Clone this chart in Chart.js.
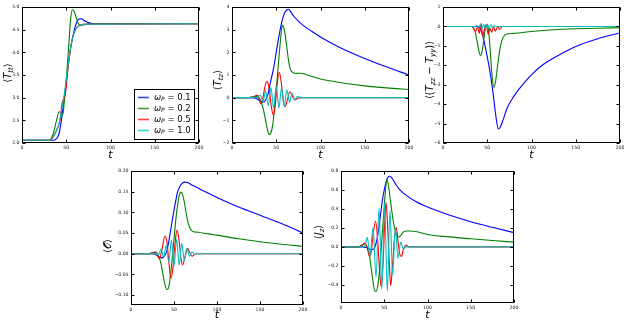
<!DOCTYPE html>
<html><head><meta charset="utf-8">
<script src="https://cdn.jsdelivr.net/npm/chart.js@4"></script>
<style>
html,body{margin:0;padding:0;background:#fff}
body{width:627px;height:320px;position:relative;overflow:hidden}
canvas{position:absolute}
</style>
</head><body>
<canvas id="c1" width="212" height="160" style="left:0px;top:0px"></canvas>
<canvas id="c2" width="210" height="160" style="left:210px;top:0px"></canvas>
<canvas id="c3" width="207" height="160" style="left:420px;top:0px"></canvas>
<canvas id="c4" width="210" height="160" style="left:100px;top:160px"></canvas>
<canvas id="c5" width="215" height="160" style="left:310px;top:160px"></canvas>
<script>
// ---------- DATA (t, value) ----------
const omegaLabels = ['0.1', '0.2', '0.5', '1.0'];
const seriesColors = ['rgb(0,0,255)', 'rgb(0,128,0)', 'rgb(255,0,0)', 'rgb(0,191,191)'];
const xTicks = [0, 50, 100, 150, 200];

// <T_tt>
const ttW01 = [[0,2.06],[36,2.06],[40,2.12],[42,2.22],[44.5,2.5],[47.4,2.95],[50,3.35],[52,3.68],[55,4.1],[58.6,4.45],[61,4.62],[64,4.73],[67,4.74],[71,4.69],[76,4.65],[82,4.63],[200,4.63]];
const ttW02 = [[0,2.06],[30,2.06],[33,2.1],[36,2.25],[39,2.5],[42,2.69],[44,2.66],[46,2.62],[48,2.95],[50.4,3.5],[53,4.2],[55,4.75],[57,4.94],[59,4.9],[61,4.78],[63,4.66],[66,4.59],[70,4.61],[75,4.63],[200,4.63]];
const ttW05 = [[0,2.06],[31,2.06],[34,2.1],[37,2.2],[40,2.32],[43,2.5],[45.5,2.9],[47.5,2.98],[49.5,3.15],[52,3.65],[55,4.1],[58,4.38],[61,4.52],[65,4.59],[70,4.62],[200,4.63]];
const ttW10 = [[0,2.06],[31,2.06],[33,2.07],[36,2.15],[39,2.28],[42,2.45],[45,2.75],[48,3.1],[51,3.55],[54,4.0],[57,4.3],[60,4.48],[63,4.56],[66,4.6],[70,4.62],[200,4.63]];
const ttTicks = [2.0, 2.5, 3.0, 3.5, 4.0, 4.5, 5.0];

// <T_tz>
const tzW01 = [[0,0],[22,0],[28,-0.05],[32,-0.15],[35,-0.2],[38,-0.1],[41,0.2],[43,0.6],[47,1.3],[50,2.0],[53,2.7],[56,3.3],[59,3.7],[62,3.88],[64,3.9],[67,3.75],[70,3.58],[75,3.38],[80,3.2],[90,2.93],[100,2.68],[120,2.25],[150,1.73],[175,1.35],[200,1.0]];
const tzW02 = [[0,0],[18,0],[24,0.05],[28,0.05],[32,-0.1],[35,-0.45],[38,-1.0],[40,-1.4],[42,-1.63],[44,-1.55],[46,-1.2],[48,-0.5],[50,0.4],[52,1.3],[54,2.2],[56,3.0],[57,3.2],[58.5,3.1],[60,2.8],[62,2.2],[64,1.6],[66,1.25],[69,1.1],[73,1.07],[78,1.08],[85,1.0],[100,0.82],[125,0.65],[150,0.52],[175,0.43],[200,0.36]];
const tzW05 = [[0,0],[22,0],[25,0.05],[28,0.1],[30,0.05],[32.5,-0.27],[35,0.0],[37,0.45],[39.5,0.72],[42,0.4],[44.5,-0.4],[46.7,-0.77],[49,-0.3],[51,0.6],[53.5,1.12],[56,0.55],[58,-0.15],[60,-0.4],[62.5,-0.1],[65.5,0.26],[68,0.08],[71,-0.1],[74,-0.03],[78,0],[200,0]];
const tzW10 = [[0,0],[26,0],[29,0.03],[32,0.12],[35,-0.17],[38,0.3],[41,-0.35],[44,0.45],[47,-0.45],[50,0.5],[53,-0.45],[56,0.45],[59,-0.38],[62,0.35],[65,-0.2],[68,0.2],[71,-0.08],[74,0.06],[77,0],[200,0]];
const tzTicks = [-2, -1, 0, 1, 2, 3, 4];

// <(T_zz - T_yy)>
const dW01 = [[0,0],[39,0],[42,-0.1],[45,-0.5],[48,-1.1],[51,-1.8],[54,-2.6],[57,-3.6],[60,-4.7],[62.5,-5.28],[65,-5.15],[68,-4.8],[72,-4.25],[80,-3.6],[90,-3.0],[100,-2.49],[112,-2.0],[125,-1.63],[150,-1.03],[175,-0.63],[200,-0.34]];
const dW02 = [[0,0],[32,0],[35,-0.1],[37,-0.4],[39,-0.9],[41,-1.35],[42.5,-1.5],[44,-1.35],[46,-0.7],[48,-0.1],[50,0.1],[51.5,-0.2],[53,-1.0],[55,-2.3],[57.5,-3.14],[59.5,-2.8],[62,-1.9],[65,-1.0],[68,-0.55],[72,-0.39],[80,-0.36],[100,-0.26],[125,-0.17],[150,-0.12],[175,-0.09],[200,-0.07]];
const dW05 = [[0,0],[33,0],[35,-0.15],[37,-0.25],[39,0],[41,-0.35],[43,0.15],[45,-0.5],[47,-0.1],[49,0.1],[51,-0.4],[53,-0.1],[55,-0.3],[57,0],[59,-0.25],[62,0],[64,-0.15],[67,0],[200,0]];
const dW10 = [[0,0],[36,0],[38,0.05],[40,-0.05],[42,0.08],[44,-0.1],[46,0.1],[48,-0.12],[50,0.12],[52,-0.1],[54,0.08],[56,-0.06],[58,0.03],[60,0],[200,0]];
const dTicks = [-6, -5, -4, -3, -2, -1, 0, 1];

// <O>
const oW01 = [[0,0],[25,0],[30,-0.004],[35,-0.01],[38,-0.008],[40,-0.002],[42,0.01],[44,0.03],[46,0.055],[48,0.081],[50,0.105],[52,0.128],[54,0.148],[57,0.163],[60,0.171],[62.5,0.173],[66,0.172],[70,0.167],[75,0.162],[87,0.149],[100,0.136],[125,0.113],[150,0.093],[175,0.073],[200,0.05]];
const oW02 = [[0,0],[20,0],[25,0.003],[29,0.004],[32,-0.005],[35,-0.025],[38,-0.06],[40.5,-0.082],[42,-0.087],[44,-0.08],[46,-0.05],[48,-0.01],[50,0.035],[52,0.08],[54,0.115],[56,0.14],[58.3,0.149],[60,0.143],[62,0.125],[64,0.1],[66,0.078],[69,0.06],[72,0.054],[78,0.052],[90,0.048],[100,0.045],[125,0.036],[150,0.029],[175,0.023],[200,0.018]];
const oW05 = [[0,0],[24,0],[28,0.004],[30,0],[33,-0.012],[36,0.01],[39.5,0.043],[42,0.025],[44,-0.02],[46.5,-0.06],[49,-0.03],[51,0.02],[53.5,0.057],[56,0.03],[58,-0.01],[60,-0.027],[62.5,-0.01],[65.5,0.013],[68,0.004],[71,-0.006],[74,-0.002],[77,0],[200,0]];
const oW10 = [[0,0],[28,0],[30,0.002],[32,-0.003],[35,0.012],[38,-0.008],[41,0.02],[44,-0.02],[47,0.033],[50,-0.03],[53,0.035],[56,-0.028],[59,0.025],[62,-0.016],[65,0.012],[68,-0.006],[71,0.004],[74,-0.002],[77,0],[200,0]];
const oTicks = [-0.10, -0.05, 0.00, 0.05, 0.10, 0.15, 0.20];

// <J_z>
const jW01 = [[0,0],[25,0],[30,-0.01],[35,-0.03],[38,-0.02],[40,0.02],[42,0.1],[44,0.22],[46,0.36],[48,0.5],[50,0.6],[52,0.68],[54,0.73],[56,0.745],[58,0.735],[62,0.68],[66,0.625],[70,0.585],[75,0.545],[87,0.475],[100,0.42],[125,0.335],[150,0.265],[175,0.206],[200,0.15]];
const jW02 = [[0,0],[20,0],[24,0.02],[27,0.03],[30,0.0],[33,-0.1],[36,-0.3],[38.5,-0.45],[40.5,-0.47],[43,-0.38],[45,-0.2],[47,0.05],[49,0.3],[51,0.55],[53,0.71],[55,0.64],[57,0.5],[59,0.36],[61,0.24],[63,0.16],[65,0.12],[67,0.105],[69,0.12],[72,0.155],[76,0.168],[80,0.168],[90,0.155],[100,0.13],[125,0.105],[150,0.085],[175,0.067],[200,0.05]];
const jW05 = [[0,0],[22,0],[25,0.02],[27.5,0.04],[30,0.0],[33,-0.1],[35,-0.05],[37,0.12],[40,0.27],[42.5,0.05],[45,-0.3],[46.5,-0.42],[48.5,-0.2],[50.5,0.25],[52,0.47],[54,0.2],[56,-0.2],[57.5,-0.41],[59.5,-0.2],[62,0.1],[64,0.2],[66,0.05],[68,-0.08],[70,-0.1],[72,-0.03],[75,0.02],[78,0],[200,0]];
const jW10 = [[0,0],[26,0],[28,0.02],[30.5,0.1],[33.5,-0.1],[37,0.2],[40.5,-0.32],[44,0.41],[47.2,-0.45],[50.4,0.47],[53.5,-0.47],[56.6,0.38],[59.7,-0.3],[62.8,0.2],[65.9,-0.12],[69,0.05],[72,-0.02],[75,0],[200,0]];
const jTicks = [-0.4, -0.2, 0.0, 0.2, 0.4, 0.6, 0.8];

// axis titles: [text, style] with n=normal, i=italic, s=italic subscript
const ttTitle = [['⟨','n'],['T','i'],['tt','s'],['⟩','n']];
const tzTitle = [['⟨','n'],['T','i'],['tz','s'],['⟩','n']];
const dTitle  = [['⟨(','n'],['T','i'],['zz','s'],[' − ','n'],['T','i'],['yy','s'],[')⟩','n']];
const oTitle  = [['⟨','n'],['𝒪','n'],['⟩','n']];
const jTitle  = [['⟨','n'],['J','i'],['z','s'],['⟩','n']];
const xTitle  = [['t','i']];

// ---------- drawing helpers ----------
const FAM = '"DejaVu Sans", sans-serif';
function fontFor(style, size) {
  if (style === 's') return 'italic ' + (size * 0.7) + 'px ' + FAM;
  if (style === 'i') return 'italic ' + size + 'px ' + FAM;
  return size + 'px ' + FAM;
}
function drawMath(ctx, parts, cx, cy, size, rotate, alignLeft) {
  ctx.save();
  ctx.translate(cx, cy);
  if (rotate) ctx.rotate(-Math.PI / 2);
  ctx.fillStyle = '#000';
  ctx.textBaseline = 'middle';
  ctx.textAlign = 'left';
  let total = 0;
  const ws = parts.map(p => { ctx.font = fontFor(p[1], size); const w = ctx.measureText(p[0]).width; total += w; return w; });
  let xx = alignLeft ? 0 : -total / 2;
  parts.forEach((p, i) => {
    ctx.font = fontFor(p[1], size);
    ctx.fillText(p[0], xx, p[1] === 's' ? size * 0.28 : 0);
    xx += ws[i];
  });
  ctx.restore();
}

const framePlugin = {
  id: 'frame',
  afterDraw(chart) {
    const o = chart.options.plugins.frame;
    const { ctx, chartArea: a } = chart;
    const xs = chart.scales.x, ys = chart.scales.y;
    ctx.save();
    ctx.strokeStyle = '#000';
    ctx.lineWidth = 1;
    const L = Math.round(a.left) + 0.5, R = Math.round(a.right) - 0.5;
    const T = Math.round(a.top) + 0.5, B = Math.round(a.bottom) - 0.5;
    ctx.beginPath();
    xs.ticks.forEach(t => {
      const px = Math.round(xs.getPixelForValue(t.value)) + 0.5;
      ctx.moveTo(px, B); ctx.lineTo(px, B - 3);
      ctx.moveTo(px, T); ctx.lineTo(px, T + 3);
    });
    ys.ticks.forEach(t => {
      const py = Math.round(ys.getPixelForValue(t.value)) + 0.5;
      ctx.moveTo(L, py); ctx.lineTo(L + 3, py);
      ctx.moveTo(R, py); ctx.lineTo(R - 3, py);
    });
    ctx.stroke();
    ctx.strokeRect(L, T, R - L, B - T);
    ctx.restore();
    drawMath(ctx, o.yTitle, o.yTitleX, o.yTitleY, 10, true);
    drawMath(ctx, xTitle, (a.left + a.right) / 2, o.xTitleY, 11, false);
    if (o.legend) {
      const lg = o.legend;
      ctx.save();
      ctx.fillStyle = '#fff';
      ctx.fillRect(lg.x, lg.y, lg.w, lg.h);
      ctx.strokeStyle = '#000';
      ctx.lineWidth = 1;
      ctx.strokeRect(lg.x + 0.5, lg.y + 0.5, lg.w, lg.h);
      omegaLabels.forEach((lab, i) => {
        const yy = lg.y + 8.5 + i * 11;
        ctx.strokeStyle = seriesColors[i];
        ctx.globalAlpha = 0.75;
        ctx.lineWidth = 1.6;
        ctx.beginPath(); ctx.moveTo(lg.x + 4, yy); ctx.lineTo(lg.x + 15, yy); ctx.stroke();
        ctx.globalAlpha = 1;
        drawMath(ctx, [['ω', 'i'], ['P', 's'], [' = ' + lab, 'n']], lg.x + 20, yy, 8.5, false, true);
      });
      ctx.restore();
    }
  }
};

function fmt(dec) {
  return v => (v < 0 ? '−' : '') + Math.abs(v).toFixed(dec);
}

function makeChart(id, series, yMin, yMax, yTicks, dec, area, extra) {
  const cv = document.getElementById(id);
  const W = cv.width, H = cv.height;
  const datasets = series.map((s, i) => ({
    data: s.map(p => ({ x: p[0], y: p[1] })),
    borderColor: seriesColors[i],
    borderWidth: 1.1,
    pointRadius: 0,
    fill: false,
    cubicInterpolationMode: 'monotone',
    order: series.length - i
  }));
  const tickFont = { size: 4.6, family: FAM };
  new Chart(cv, {
    type: 'line',
    data: { datasets },
    plugins: [framePlugin],
    options: {
      responsive: false,
      animation: false,
      events: [],
      layout: { autoPadding: false, padding: { left: 0, top: area.t, right: W - area.r, bottom: 0 } },
      plugins: { legend: { display: false }, tooltip: { enabled: false }, frame: extra },
      scales: {
        x: {
          type: 'linear', min: 0, max: 200,
          afterBuildTicks: s => { s.ticks = xTicks.map(v => ({ value: v })); },
          afterFit: s => { s.height = H - area.b; },
          grid: { display: false, drawTicks: false },
          border: { display: false },
          ticks: { font: tickFont, color: '#222', padding: 2, maxRotation: 0, autoSkip: false, callback: v => String(v) }
        },
        y: {
          type: 'linear', min: yMin, max: yMax,
          afterBuildTicks: s => { s.ticks = yTicks.map(v => ({ value: v })); },
          afterFit: s => { s.width = area.l; },
          grid: { display: false, drawTicks: false },
          border: { display: false },
          ticks: { font: tickFont, color: '#222', padding: 2.5, autoSkip: false, callback: fmt(dec) }
        }
      }
    }
  });
}

makeChart('c1', [ttW01, ttW02, ttW05, ttW10], 2.0, 5.0, ttTicks, 1,
  { l: 22, t: 7, r: 199, b: 143 },
  { yTitle: ttTitle, yTitleX: 8, yTitleY: 73, xTitleY: 155, legend: { x: 134, y: 89, w: 60, h: 50 } });
makeChart('c2', [tzW01, tzW02, tzW05, tzW10], -2, 4, tzTicks, 0,
  { l: 22, t: 7, r: 199, b: 143 },
  { yTitle: tzTitle, yTitleX: 8, yTitleY: 80, xTitleY: 155 });
makeChart('c3', [dW01, dW02, dW05, dW10], -6, 1, dTicks, 0,
  { l: 23, t: 7, r: 200, b: 143 },
  { yTitle: dTitle, yTitleX: 10, yTitleY: 70, xTitleY: 155 });
makeChart('c4', [oW01, oW02, oW05, oW10], -0.124, 0.20, oTicks, 2,
  { l: 31, t: 11, r: 203, b: 145 },
  { yTitle: oTitle, yTitleX: 8, yTitleY: 86, xTitleY: 155 });
makeChart('c5', [jW01, jW02, jW05, jW10], -0.592, 0.8, jTicks, 1,
  { l: 31, t: 11, r: 204, b: 143 },
  { yTitle: jTitle, yTitleX: 9, yTitleY: 72, xTitleY: 155 });
</script>
</body></html>
